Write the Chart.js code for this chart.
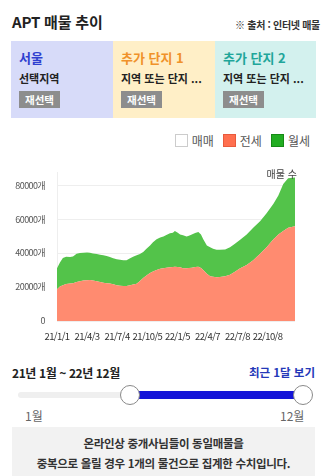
<!DOCTYPE html>
<html lang="ko">
<head>
<meta charset="utf-8">
<script src="https://cdn.jsdelivr.net/npm/chart.js@4"></script>
<style>
  * { box-sizing: border-box; }
  body { margin: 0; width: 328px; height: 476px; overflow: hidden; background: #fff;
         font-family: "Noto Sans CJK KR", "Noto Sans", sans-serif; color: #222; position: relative; }
  .abs { position: absolute; white-space: nowrap; }
  .title { left: 12px; top: 11px; font-size: 15px; font-weight: bold; letter-spacing: -0.2px; }
  .source { right: 8px; top: 17px; font-size: 10px; font-weight: bold; color: #333; letter-spacing: -0.3px; }
  .box { top: 41px; height: 77px; width: 102px; padding: 9px 0 0 8px; }
  .box .name { font-size: 13px; font-weight: bold; line-height: 16px; }
  .box .sub { font-size: 11px; font-weight: bold; margin-top: 5px; line-height: 14px; color: #222; }
  .box .btn { display: inline-block; margin-top: 6px; background: #8d8d8d; color: #fff; font-size: 10.5px;
              font-weight: bold; padding: 0 6px; height: 17px; line-height: 17px; }
  .legend { top: 132px; right: 18px; display: flex; align-items: center; font-size: 12px; color: #555; }
  .legend span.sw { display: inline-block; width: 13px; height: 13px; margin-right: 4px; border: 1px solid #ccc; }
  .legend span.lb { margin-right: 9px; }
  .chart-wrap { position: absolute; left: 0; top: 155px; width: 328px; height: 195px; }
  .ylabel { right: 31px; top: 166px; font-size: 10px; color: #444; }
  .range { left: 12px; top: 364px; font-size: 12px; font-weight: bold; letter-spacing: -0.4px; }
  .recent { right: 13px; top: 364px; font-size: 11.5px; font-weight: bold; color: #2438b8; }
  .track { left: 18px; top: 392px; width: 294px; height: 6px; border-radius: 3px; background: #efefef; }
  .fillbar { left: 130px; top: 391px; width: 173px; height: 8px; background: #1414d8; }
  .knob { width: 20px; height: 20px; border-radius: 50%; background: #fff; border: 1.5px solid #8a8a8a; top: 385px; }
  .mon { top: 407px; font-size: 12px; color: #666; }
  .notice { left: 12px; top: 427px; width: 303px; height: 60px; background: #f2f2f2; text-align: center;
            font-size: 11.5px; font-weight: bold; color: #333; padding-top: 6px; line-height: 20px; letter-spacing: -0.3px; }
</style>
</head>
<body>
<div class="abs title">APT 매물 추이</div>
<div class="abs source">※ 출처 : 인터넷 매물</div>

<div class="abs box" style="left:11px;background:#d7dbf9;">
  <div class="name" style="color:#2f3fd0;">서울</div>
  <div class="sub">선택지역</div>
  <div class="btn">재선택</div>
</div>
<div class="abs box" style="left:113px;background:#ffefc7;">
  <div class="name" style="color:#f0922a;">추가 단지 1</div>
  <div class="sub">지역 또는 단지 ...</div>
  <div class="btn">재선택</div>
</div>
<div class="abs box" style="left:215px;width:101px;background:#d3f1ee;">
  <div class="name" style="color:#1fa69a;">추가 단지 2</div>
  <div class="sub">지역 또는 단지 ...</div>
  <div class="btn">재선택</div>
</div>

<div class="abs legend">
  <span class="sw" style="background:#fff;"></span><span class="lb">매매</span>
  <span class="sw" style="background:#ff6f4f;border-color:#e85a3c;"></span><span class="lb">전세</span>
  <span class="sw" style="background:#22ad22;border-color:#168a16;"></span><span>월세</span>
</div>

<div class="chart-wrap"><canvas id="trendChart"></canvas></div>
<div class="abs ylabel">매물 수</div>

<div class="abs range">21년 1월 ~ 22년 12월</div>
<div class="abs recent">최근 1달 보기</div>
<div class="abs track"></div>
<div class="abs fillbar"></div>
<div class="abs knob" style="left:120px;"></div>
<div class="abs knob" style="left:293px;"></div>
<div class="abs mon" style="left:25px;">1월</div>
<div class="abs mon" style="left:280px;">12월</div>

<div class="abs notice">온라인상 중개사님들이 동일매물을<br>중복으로 올릴 경우 1개의 물건으로 집계한 수치입니다.</div>

<script>
// days counted from 21/1/1
const days = [0, 9, 18, 28, 40, 49, 60, 70, 81, 92, 101, 110, 122, 132, 142, 152, 162, 172, 183, 193,
  203, 213, 224, 233, 244, 254, 264, 274, 285, 294, 305, 316, 326, 335, 346, 355, 361, 370, 377, 386,
  397, 404, 413, 423, 433, 441, 448, 459, 469, 478, 489, 499, 515, 530, 545, 561, 581, 601, 622, 642,
  663, 678, 693, 708, 729];

const jeonse = [18700, 20300, 21100, 21800, 22100, 22300, 22900, 23400, 23800, 24000, 24200, 23900, 23400, 23000, 22500, 22300, 22100, 21600, 21100, 20800,
  20600, 20600, 21000, 21500, 21900, 23600, 25300, 26800, 28200, 29100, 30100, 30700, 31000, 31300, 31600, 31800, 32000, 31800, 31600, 31000,
  31000, 31200, 31400, 31800, 32000, 31200, 30100, 27800, 26300, 26000, 25800, 25900, 26300, 27200, 29000, 31000, 33000, 35800, 39600, 43400,
  48200, 51000, 53000, 54900, 55800];

// total listings (전세 + 월세)
const total = [31000, 34500, 37100, 37800, 37700, 38000, 39600, 40000, 40200, 40400, 40200, 39800, 39400, 39000, 38700, 38300, 37700, 37000, 36400, 36000,
  35800, 35700, 37000, 37800, 38700, 39500, 40600, 42500, 44400, 46300, 48200, 49100, 49700, 50600, 51600, 52000, 53000, 52000, 51000, 50500,
  49700, 50200, 51000, 51800, 52400, 51000, 48200, 44400, 43400, 42500, 42000, 41900, 42100, 43400, 45500, 47800, 51000, 54900, 58700, 63400,
  69100, 73900, 80600, 84000, 84500];

const wolse = total.map((t, i) => t - jeonse[i]);

const tickDays = [0, 92, 184, 277, 369, 461, 553, 645];
const tickLabels = ["21/1/1", "21/4/3", "21/7/4", "21/10/5", "22/1/5", "22/4/7", "22/7/8", "22/10/8"];
const yTicks = [0, 20000, 40000, 60000, 80000];

const axisFont = "'Noto Sans CJK KR', sans-serif";

// tighter tick text
const tightText = {
  id: "tightText",
  beforeDraw: (c) => { c.ctx.letterSpacing = "-0.6px"; },
};

const ctx = document.getElementById("trendChart").getContext("2d");

const chart = new Chart(ctx, {
  type: "line",
  plugins: [tightText],
  data: {
    datasets: [
      {
        label: "전세",
        data: days.map((d, i) => ({ x: d, y: jeonse[i] })),
        backgroundColor: "#ff8b70",
        borderWidth: 0,
        pointRadius: 0,
        fill: "origin",
      },
      {
        label: "월세",
        data: days.map((d, i) => ({ x: d, y: wolse[i] })),
        backgroundColor: "#53c34a",
        borderWidth: 0,
        pointRadius: 0,
        fill: "-1",
      },
    ],
  },
  options: {
    responsive: true,
    maintainAspectRatio: false,
    animation: false,
    layout: { padding: { top: 13, right: 33, left: 0, bottom: 0 } },
    plugins: { legend: { display: false }, tooltip: { enabled: false } },
    scales: {
      x: {
        type: "linear",
        min: 0,
        max: 729,
        grid: { display: false },
        border: { display: false },
        afterBuildTicks: (scale) => { scale.ticks = tickDays.map((v) => ({ value: v })); },
        afterFit: (scale) => { scale.height = 29; },
        ticks: {
          autoSkip: false,
          maxRotation: 0,
          padding: 2,
          color: "#333",
          font: { family: axisFont, size: 9.5 },
          callback: (v) => tickLabels[tickDays.indexOf(v)],
        },
      },
      y: {
        stacked: true,
        min: 0,
        max: 87500,
        grid: { color: "#eeeeee", drawTicks: false },
        border: { color: "#eeeeee" },
        afterBuildTicks: (scale) => { scale.ticks = yTicks.map((v) => ({ value: v })); },
        afterFit: (scale) => { scale.width = 57; },
        ticks: {
          padding: 12,
          color: "#555",
          font: { family: axisFont, size: 9 },
          callback: (v) => (v === 0 ? "0" : v + "개"),
        },
      },
    },
  },
});
</script>
</body>
</html>
